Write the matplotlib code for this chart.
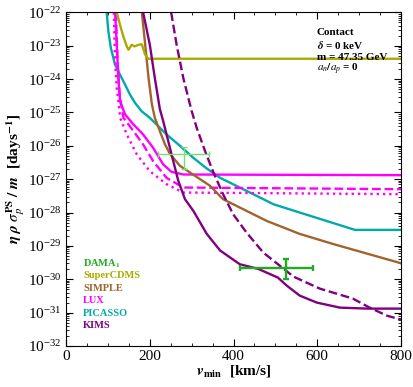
import matplotlib
matplotlib.use("Agg")
import matplotlib.pyplot as plt
import numpy as np
from matplotlib.ticker import MultipleLocator, FixedLocator, LogFormatterMathtext, NullFormatter

plt.rcParams['font.family'] = ['Liberation Serif', 'DejaVu Serif']
plt.rcParams['mathtext.fontset'] = 'stix'

# curves: v_min [km/s] and log10 of eta rho sigma / m
cdms_v = [121, 129, 137, 145, 149, 157, 163, 173, 181, 189, 196, 800]
cdms_log = [-22.0, -22.38, -22.73, -23.02, -23.12, -22.97, -23.02, -22.97, -22.96, -23.27, -23.39, -23.39]

simple_v = [181, 189, 197, 205, 212, 224, 236, 248, 272, 308, 344, 375, 479, 558, 637, 800]
simple_log = [-22.0, -22.97, -23.97, -24.76, -25.16, -25.56, -25.95, -26.24, -26.6, -26.9, -27.2, -27.6,
              -28.25, -28.64, -28.94, -29.52]

picasso_v = [97, 101, 107, 117, 129, 141, 153, 165, 181, 200, 240, 272, 304, 336, 368, 431, 495, 558, 690, 800]
picasso_log = [-22.0, -22.57, -23.07, -23.57, -23.87, -24.17, -24.47, -24.72, -24.97, -25.16, -25.66, -26.0,
               -26.36, -26.68, -26.96, -27.35, -27.75, -28.0, -28.52, -28.52]

kims_v = [184, 200, 212, 224, 232, 244, 256, 268, 284, 304, 336, 368, 415, 459, 506, 527, 558, 599, 654, 720, 800]
kims_log = [-22.0, -22.97, -23.97, -24.9, -25.26, -25.86, -26.46, -27.05, -27.6, -27.95, -28.64, -29.14,
            -29.55, -29.69, -29.95, -30.19, -30.49, -30.7, -30.85, -30.88, -30.88]

kims2_v = [251, 264, 280, 300, 312, 332, 352, 375, 399, 431, 471, 511, 543, 606, 685, 725, 766, 800]
kims2_log = [-22.0, -22.97, -23.97, -24.96, -25.46, -26.16, -26.8, -27.45, -28.05, -28.6, -29.2, -29.6,
             -29.92, -30.28, -30.58, -30.85, -31.09, -31.21]

lux_v = [117, 121, 125, 129, 141, 161, 184, 208, 232, 252, 280, 800]
lux_log = [-22.0, -22.97, -23.97, -24.67, -25.06, -25.36, -25.66, -26.06, -26.56, -26.78, -26.86, -26.88]

lux2_v = [119, 123, 128, 137, 161, 184, 208, 240, 280, 800]
lux2_log = [-22.0, -23.5, -24.5, -25.16, -25.56, -25.96, -26.46, -26.96, -27.25, -27.3]

lux3_v = [114, 117, 121, 125, 129, 145, 169, 200, 240, 280, 800]
lux3_log = [-22.0, -23.5, -24.27, -24.67, -25.16, -25.66, -26.26, -26.76, -27.15, -27.4, -27.45]

# DAMA points: center, x range, log y range
dama1_v, dama1_vlo, dama1_vhi = 282, 220, 342
dama1_log, dama1_loglo, dama1_loghi = -26.24, -26.70, -26.04
dama2_v, dama2_vlo, dama2_vhi = 525, 415, 589
dama2_log, dama2_loglo, dama2_loghi = -29.65, -30.0, -29.39

decades = list(range(-32, -21))
labels = ['DAMA$_\\mathbf{1}$', 'SuperCDMS', 'SIMPLE', 'LUX', 'PICASSO', 'KIMS']
colors = ['#22aa22', '#aaaa00', '#a0642d', '#ff00ff', '#00aaaa', '#800080']

fig = plt.figure(figsize=(4.13, 3.87), dpi=100)
ax = fig.add_axes([0.160, 0.106, 0.811, 0.862])

lw = 1.7
def p(v, lg, c, ls='-'):
    ax.plot(v, 10.0 ** np.array(lg), color=c, lw=lw, ls=ls)

p(picasso_v, picasso_log, colors[4])
p(lux3_v, lux3_log, colors[3], ':')
p(lux2_v, lux2_log, colors[3], '--')
p(lux_v, lux_log, colors[3])
p(simple_v, simple_log, colors[2])
p(cdms_v, cdms_log, colors[1])
p(kims_v, kims_log, colors[5])
p(kims2_v, kims2_log, colors[5], '--')

ax.errorbar([dama1_v], [10 ** dama1_log],
            xerr=[[dama1_v - dama1_vlo], [dama1_vhi - dama1_v]],
            yerr=[[10 ** dama1_log - 10 ** dama1_loglo], [10 ** dama1_loghi - 10 ** dama1_log]],
            color='#77dd77', lw=1.0, capsize=2.5, capthick=1.0)
ax.errorbar([dama2_v], [10 ** dama2_log],
            xerr=[[dama2_v - dama2_vlo], [dama2_vhi - dama2_v]],
            yerr=[[10 ** dama2_log - 10 ** dama2_loglo], [10 ** dama2_loghi - 10 ** dama2_log]],
            color='#22aa22', lw=1.7, capsize=2.5, capthick=1.7)

ax.set_yscale('log')
ax.set_xlim(0, 800)
ax.set_ylim(1e-32, 1e-22)
ax.xaxis.set_major_locator(MultipleLocator(200))
ax.xaxis.set_minor_locator(MultipleLocator(50))
major = [10.0 ** d for d in decades]
minor = [k * 10.0 ** d for d in decades[:-1] for k in range(2, 10)]
ax.yaxis.set_major_locator(FixedLocator(major))
ax.yaxis.set_major_formatter(LogFormatterMathtext())
ax.yaxis.set_minor_locator(FixedLocator(minor))
ax.yaxis.set_minor_formatter(NullFormatter())
ax.tick_params(which='both', direction='in', top=True, right=True, labelsize=11)
ax.tick_params(which='major', length=5, width=0.8, pad=3)
ax.tick_params(which='minor', length=2.5, width=0.6)

ax.set_xlabel(r'$\boldsymbol{v}_{\mathbf{min}}$  [km/s]', fontsize=11, fontweight='bold', labelpad=0)
ax.set_ylabel(r'$\boldsymbol{\eta\ \rho\ \sigma_p^{\mathbf{PS}}\ /\ m}$  [days$^{\mathbf{-1}}$]',
              fontsize=11, fontweight='bold', labelpad=1)

for i, (lab, c) in enumerate(zip(labels, colors)):
    ax.text(0.051, 0.2475 - i * 0.0375, lab, color=c, transform=ax.transAxes,
            fontsize=7.5, fontweight='bold', va='center')

ann = ['Contact', r'$\boldsymbol{\delta}$ = 0 keV', 'm = 47.35 GeV', r'$\boldsymbol{a_n/a_p}$ = 0']
for i, t in enumerate(ann):
    ax.text(0.748, 0.939 - i * 0.0365, t, transform=ax.transAxes,
            fontsize=8, fontweight='bold', va='center')

fig.savefig('out.png', dpi=100)
